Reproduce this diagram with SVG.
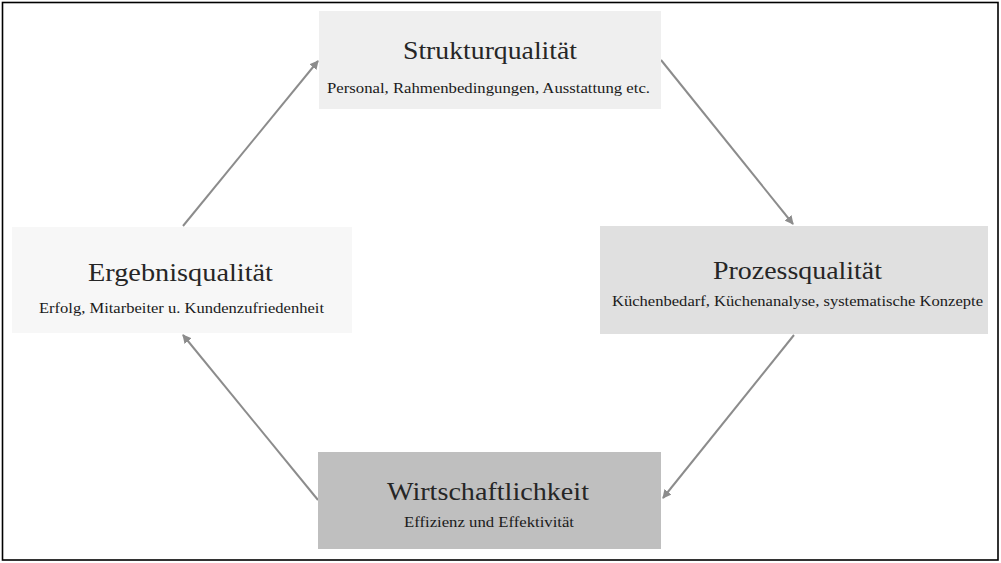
<svg xmlns="http://www.w3.org/2000/svg" width="1001" height="563" viewBox="0 0 1001 563">
<defs>
<marker id="ah" markerWidth="10" markerHeight="10" refX="8" refY="5" orient="auto" markerUnits="userSpaceOnUse">
<path d="M0,0.5 L9,5 L0,9.5 Z" fill="#8c8c8c"/>
</marker>
<style>
.t{font-family:"Liberation Serif","Times New Roman",serif;font-size:26px;fill:#262626;text-anchor:middle}
.s{font-family:"Liberation Serif","Times New Roman",serif;font-size:14px;fill:#1a1a1a;text-anchor:middle}
.c{stroke:#8c8c8c;stroke-width:2;fill:none;marker-end:url(#ah)}
</style>
</defs>
<rect x="0" y="0" width="1001" height="563" fill="#ffffff"/>
<rect x="2.5" y="2.5" width="995.5" height="557.5" fill="none" stroke="#000" stroke-width="1.6"/>
<g id="connectors">
<line class="c" x1="661" y1="60" x2="793" y2="224"/>
<line class="c" x1="794" y1="335" x2="663" y2="498"/>
<line class="c" x1="318" y1="500" x2="183" y2="335"/>
<line class="c" x1="183" y1="226" x2="318" y2="61"/>
</g>
<g id="struktur">
<rect x="319" y="11" width="342" height="98" fill="#efefef"/>
<text class="t" x="490" y="59" textLength="174" lengthAdjust="spacingAndGlyphs">Strukturqualität</text>
<text class="s" x="488.5" y="93" textLength="323" lengthAdjust="spacingAndGlyphs">Personal, Rahmenbedingungen, Ausstattung etc.</text>
</g>
<g id="prozess">
<rect x="600" y="226" width="388" height="108" fill="#e0e0e0"/>
<text class="t" x="797.5" y="279" textLength="169" lengthAdjust="spacingAndGlyphs">Prozessqualität</text>
<text class="s" x="797.5" y="306" textLength="371" lengthAdjust="spacingAndGlyphs">Küchenbedarf, Küchenanalyse, systematische Konzepte</text>
</g>
<g id="ergebnis">
<rect x="12" y="227" width="340" height="106" fill="#f7f7f7"/>
<text class="t" x="180.5" y="281" textLength="185" lengthAdjust="spacingAndGlyphs">Ergebnisqualität</text>
<text class="s" x="181.5" y="313" textLength="285" lengthAdjust="spacingAndGlyphs">Erfolg, Mitarbeiter u. Kundenzufriedenheit</text>
</g>
<g id="wirtschaft">
<rect x="318" y="452" width="343" height="97" fill="#bfbfbf"/>
<text class="t" x="488" y="500" textLength="202" lengthAdjust="spacingAndGlyphs">Wirtschaftlichkeit</text>
<text class="s" x="489" y="527" textLength="170" lengthAdjust="spacingAndGlyphs">Effizienz und Effektivität</text>
</g>
</svg>
